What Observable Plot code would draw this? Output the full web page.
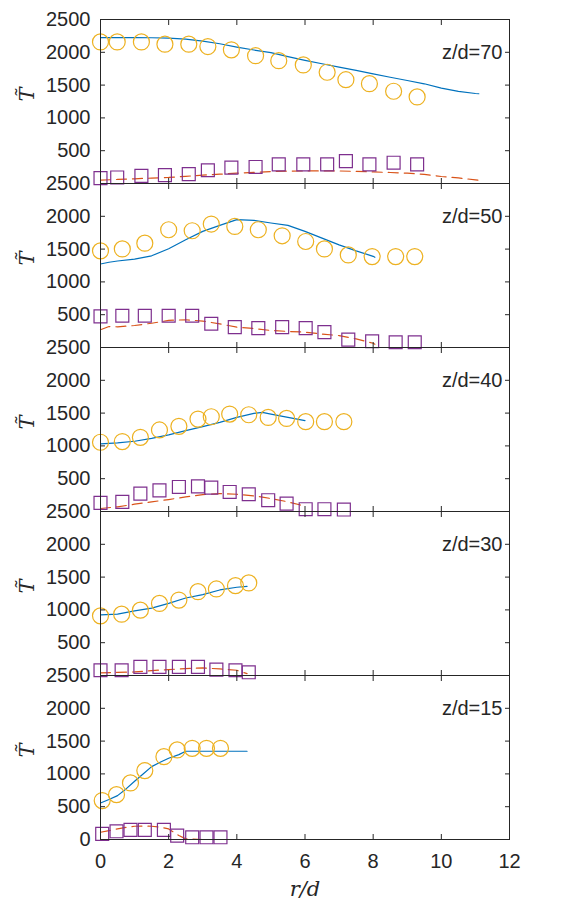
<!DOCTYPE html>
<html><head><meta charset="utf-8">
<script src="https://cdn.jsdelivr.net/npm/d3@7"></script>
<script src="https://cdn.jsdelivr.net/npm/@observablehq/plot@0.6"></script>
<style>body{margin:0;background:#fff}</style>
</head><body><div id="chart"></div>
<script>
// panels (z/d)
const panels = [70, 50, 40, 30, 15];
const xTicks = [0, 2, 4, 6, 8, 10, 12];
const yTicks = [0, 500, 1000, 1500, 2000, 2500];

// z/d = 70
const expR_70 = [0, 0.49, 1.2, 1.89, 2.59, 3.15, 3.84, 4.55, 5.23, 5.95, 6.65, 7.2, 7.89, 8.6, 9.29];
const expMean_70 = [2158, 2158, 2158, 2124, 2124, 2088, 2038, 1948, 1872, 1808, 1696, 1582, 1522, 1406, 1320];
const expRms_70 = [81, 92, 117, 127, 142, 202, 242, 252, 292, 292, 292, 342, 292, 317, 292];
const lesR_70 = [0, 0.5, 1, 1.5, 2, 2.5, 3, 3.5, 4, 4.5, 5, 5.5, 6, 6.5, 7, 7.5, 8, 8.5, 9, 9.5, 10, 10.5, 11, 11.1];
const lesMean_70 = [2225, 2225, 2225, 2222, 2215, 2200, 2170, 2130, 2080, 2035, 1995, 1935, 1878, 1825, 1775, 1725, 1672, 1620, 1570, 1520, 1455, 1405, 1372, 1368];
const lesRms_70 = [50, 62, 72, 82, 92, 110, 127, 142, 157, 170, 182, 188, 191, 192, 191, 185, 176, 168, 157, 140, 107, 85, 55, 50];

// z/d = 50
const expR_50 = [0, 0.64, 1.3, 2.0, 2.69, 3.25, 3.94, 4.63, 5.33, 6.02, 6.57, 7.27, 7.97, 8.66, 9.22];
const expMean_50 = [1473, 1503, 1590, 1795, 1780, 1882, 1846, 1795, 1703, 1616, 1503, 1411, 1386, 1386, 1386];
const expRms_50 = [474, 484, 484, 484, 484, 362, 310, 295, 310, 295, 234, 121, 95, 80, 80];
const lesR_50 = [0, 0.25, 0.5, 1, 1.5, 2, 2.5, 3, 3.5, 4, 4.5, 5, 5.5, 6, 6.5, 7, 7.5, 8, 8.05];
const lesMean_50 = [1273, 1300, 1319, 1348, 1398, 1505, 1642, 1770, 1862, 1950, 1939, 1898, 1862, 1770, 1667, 1565, 1473, 1390, 1375];
const lesRms_50 = [270, 320, 315, 335, 370, 413, 423, 403, 360, 310, 290, 259, 245, 234, 205, 182, 131, 65, 50];

// z/d = 40
const expR_40 = [0, 0.64, 1.17, 1.73, 2.3, 2.86, 3.25, 3.79, 4.35, 4.92, 5.46, 6.02, 6.57, 7.14];
const expMean_40 = [1056, 1066, 1131, 1243, 1298, 1409, 1444, 1485, 1475, 1434, 1419, 1369, 1369, 1369];
const expRms_40 = [131, 147, 273, 323, 374, 384, 364, 298, 263, 172, 121, 35, 35, 30];
const lesR_40 = [0, 0.5, 1, 1.5, 2, 2.5, 3, 3.5, 4, 4.5, 4.75, 5, 5.5, 6];
const lesMean_40 = [1030, 1046, 1071, 1116, 1167, 1232, 1293, 1359, 1434, 1495, 1510, 1485, 1434, 1384];
const lesRms_40 = [46, 71, 111, 147, 182, 222, 258, 273, 263, 238, 220, 197, 147, 81];

// z/d = 30
const expR_30 = [0, 0.62, 1.17, 1.73, 2.3, 2.86, 3.4, 3.96, 4.35];
const expMean_30 = [909, 935, 996, 1099, 1150, 1278, 1319, 1370, 1411];
const expRms_30 = [80, 80, 131, 131, 131, 131, 90, 80, 49];
const lesR_30 = [0, 0.5, 1, 1.5, 2, 2.5, 3, 3.5, 4, 4.3];
const lesMean_30 = [925, 935, 986, 1027, 1099, 1181, 1232, 1304, 1345, 1360];
const lesRms_30 = [39, 48, 54, 75, 90, 105, 116, 100, 80, 29];

// z/d = 15
const expR_15 = [0.05, 0.47, 0.88, 1.3, 1.86, 2.25, 2.69, 3.11, 3.52];
const expMean_15 = [593, 684, 862, 1050, 1263, 1365, 1390, 1390, 1390];
const expRms_15 = [85, 125, 146, 146, 146, 60, 34, 34, 34];
const lesR_15 = [0, 0.25, 0.5, 0.75, 1, 1.25, 1.5, 1.75, 2, 2.3, 2.5, 3, 3.5, 4, 4.3];
const lesMean_15 = [557, 610, 669, 771, 887, 999, 1111, 1177, 1238, 1294, 1345, 1345, 1345, 1345, 1345];
const lesRms_15 = [110, 135, 161, 185, 202, 205, 202, 190, 161, 60, 9, 0, 0, 0, 0];

const series = {
  70: [expR_70, expMean_70, expRms_70, lesR_70, lesMean_70, lesRms_70],
  50: [expR_50, expMean_50, expRms_50, lesR_50, lesMean_50, lesRms_50],
  40: [expR_40, expMean_40, expRms_40, lesR_40, lesMean_40, lesRms_40],
  30: [expR_30, expMean_30, expRms_30, lesR_30, lesMean_30, lesRms_30],
  15: [expR_15, expMean_15, expRms_15, lesR_15, lesMean_15, lesRms_15]
};

const expRows = [], lesRows = [], yLabelRows = [];
for (const z of panels) {
  const [er, em, es, lr, lm, ls] = series[z];
  er.forEach((r, i) => expRows.push({z, r, mean: em[i], rms: es[i]}));
  lr.forEach((r, i) => lesRows.push({z, r, mean: lm[i], rms: ls[i]}));
  // the 0 of an upper panel sits under the 2500 of the panel below it
  yTicks.forEach(t => { if (t > 0 || z === panels[panels.length - 1]) yLabelRows.push({z, t}); });
}

const ink = "#262626";
const chart = Plot.plot({
  width: 562, height: 905,
  marginLeft: 100, marginRight: 53, marginTop: 18, marginBottom: 65,
  style: {fontFamily: "'Liberation Sans', Arial, sans-serif", fontSize: "20px", color: ink, background: "#fff", overflow: "visible"},
  x: {domain: [0, 12]},
  y: {domain: [0, 2500]},
  fy: {domain: panels, padding: 0, axis: null, label: null},
  marks: [
    Plot.line(lesRows, {x: "r", y: "rms", fy: "z", stroke: "#D95319", strokeWidth: 1.2, strokeDasharray: "10,6"}),
    Plot.line(lesRows, {x: "r", y: "mean", fy: "z", stroke: "#0072BD", strokeWidth: 1.2}),
    Plot.dot(expRows, {x: "r", y: "mean", fy: "z", r: 8, stroke: "#EDB120", strokeWidth: 1.2, fill: "none"}),
    Plot.dot(expRows, {x: "r", y: "rms", fy: "z", r: 7.3, symbol: "square", stroke: "#7E2F8E", strokeWidth: 1.2, fill: "none"}),
    Plot.frame({stroke: ink}),
    Plot.text(yLabelRows, {y: "t", fy: "z", text: d => String(d.t), frameAnchor: "left", dx: -10, textAnchor: "end", fill: ink, fontSize: 20}),
    Plot.axisY(yTicks, {anchor: "left", tickSize: -5, fill: "none", label: null, stroke: ink}),
    Plot.axisY(yTicks, {anchor: "right", tickSize: -5, fill: "none", label: null, stroke: ink}),
    Plot.axisX(xTicks, {anchor: "bottom", tickSize: 0, tickPadding: 14, label: null, fill: ink, tickFormat: d => String(d)}),
    Plot.axisX(xTicks, {anchor: "bottom", tickSize: -5, fill: "none", facetAnchor: null, label: null, stroke: ink}),
    Plot.axisX(xTicks, {anchor: "top", tickSize: -5, fill: "none", facetAnchor: null, label: null, stroke: ink}),
    Plot.text(panels, {fy: d => d, text: d => "z/d=" + d, frameAnchor: "top-right", dx: -7, dy: 25, textAnchor: "end", fill: ink, fontSize: 20}),
    Plot.text(panels, {fy: d => d, text: () => "T\u0303", frameAnchor: "left", dx: -73, rotate: -90, fontFamily: "'DejaVu Serif', serif", fontStyle: "italic", fontSize: 21, fill: ink}),
    Plot.text(["r/d"], {fy: () => 15, text: d => d, frameAnchor: "bottom", dy: 56, fontFamily: "'DejaVu Serif', serif", fontStyle: "italic", fontSize: 21, fill: ink})
  ]
});
document.getElementById("chart").appendChild(chart);
</script>
</body></html>
